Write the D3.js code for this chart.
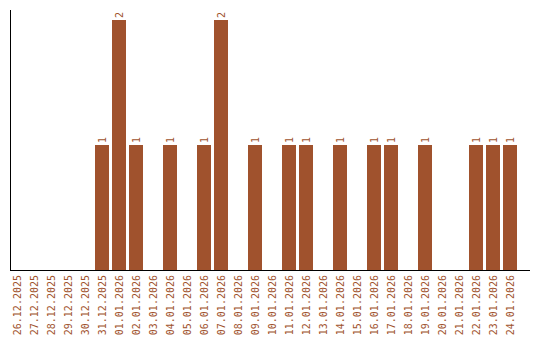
<!DOCTYPE html>
<html><head><meta charset="utf-8">
<script src="https://cdn.jsdelivr.net/npm/d3@7"></script>
<style>body{margin:0;background:#fff}svg{display:block}text{font-family:"DejaVu Sans Mono",monospace;font-size:10px}</style>
</head><body><svg id="c" width="540" height="340"></svg>
<script>
const dates = ["26.12.2025","27.12.2025","28.12.2025","29.12.2025","30.12.2025","31.12.2025","01.01.2026","02.01.2026","03.01.2026","04.01.2026","05.01.2026","06.01.2026","07.01.2026","08.01.2026","09.01.2026","10.01.2026","11.01.2026","12.01.2026","13.01.2026","14.01.2026","15.01.2026","16.01.2026","17.01.2026","18.01.2026","19.01.2026","20.01.2026","21.01.2026","22.01.2026","23.01.2026","24.01.2026"];
const counts = [0,0,0,0,0,1,2,1,0,1,0,1,2,0,1,0,1,1,0,1,0,1,1,0,1,0,0,1,1,1];
const data = dates.map((d,i)=>({d, v:counts[i]}));
const svg = d3.select("#c");
const color = "#a0522d";
const x = d3.scaleBand().domain(dates).range([10,517]).paddingInner(3/17).paddingOuter(0);
const y = d3.scaleLinear().domain([0,2]).range([270,20]);
svg.selectAll("rect").data(data.filter(d=>d.v>0)).join("rect")
  .attr("x",d=>x(d.d)).attr("width",x.bandwidth())
  .attr("y",d=>y(d.v)).attr("height",d=>y(0)-y(d.v)).attr("fill",color);
svg.selectAll("text.v").data(data.filter(d=>d.v>0)).join("text").attr("class","v")
  .attr("transform",d=>`translate(${x(d.d)+x.bandwidth()/2},${y(d.v)-2}) rotate(-90)`)
  .attr("dy","0.35em").attr("fill",color).text(d=>d.v);
svg.selectAll("text.l").data(data).join("text").attr("class","l")
  .attr("transform",d=>`translate(${x(d.d)+x.bandwidth()/2},275) rotate(-90)`)
  .attr("text-anchor","end").attr("dy","0.35em").attr("fill",color).text(d=>d.d);
svg.append("line").attr("x1",10.5).attr("x2",10.5).attr("y1",10).attr("y2",270).attr("stroke","#000");
svg.append("line").attr("x1",10).attr("x2",530).attr("y1",270.5).attr("y2",270.5).attr("stroke","#000");
</script></body></html>
